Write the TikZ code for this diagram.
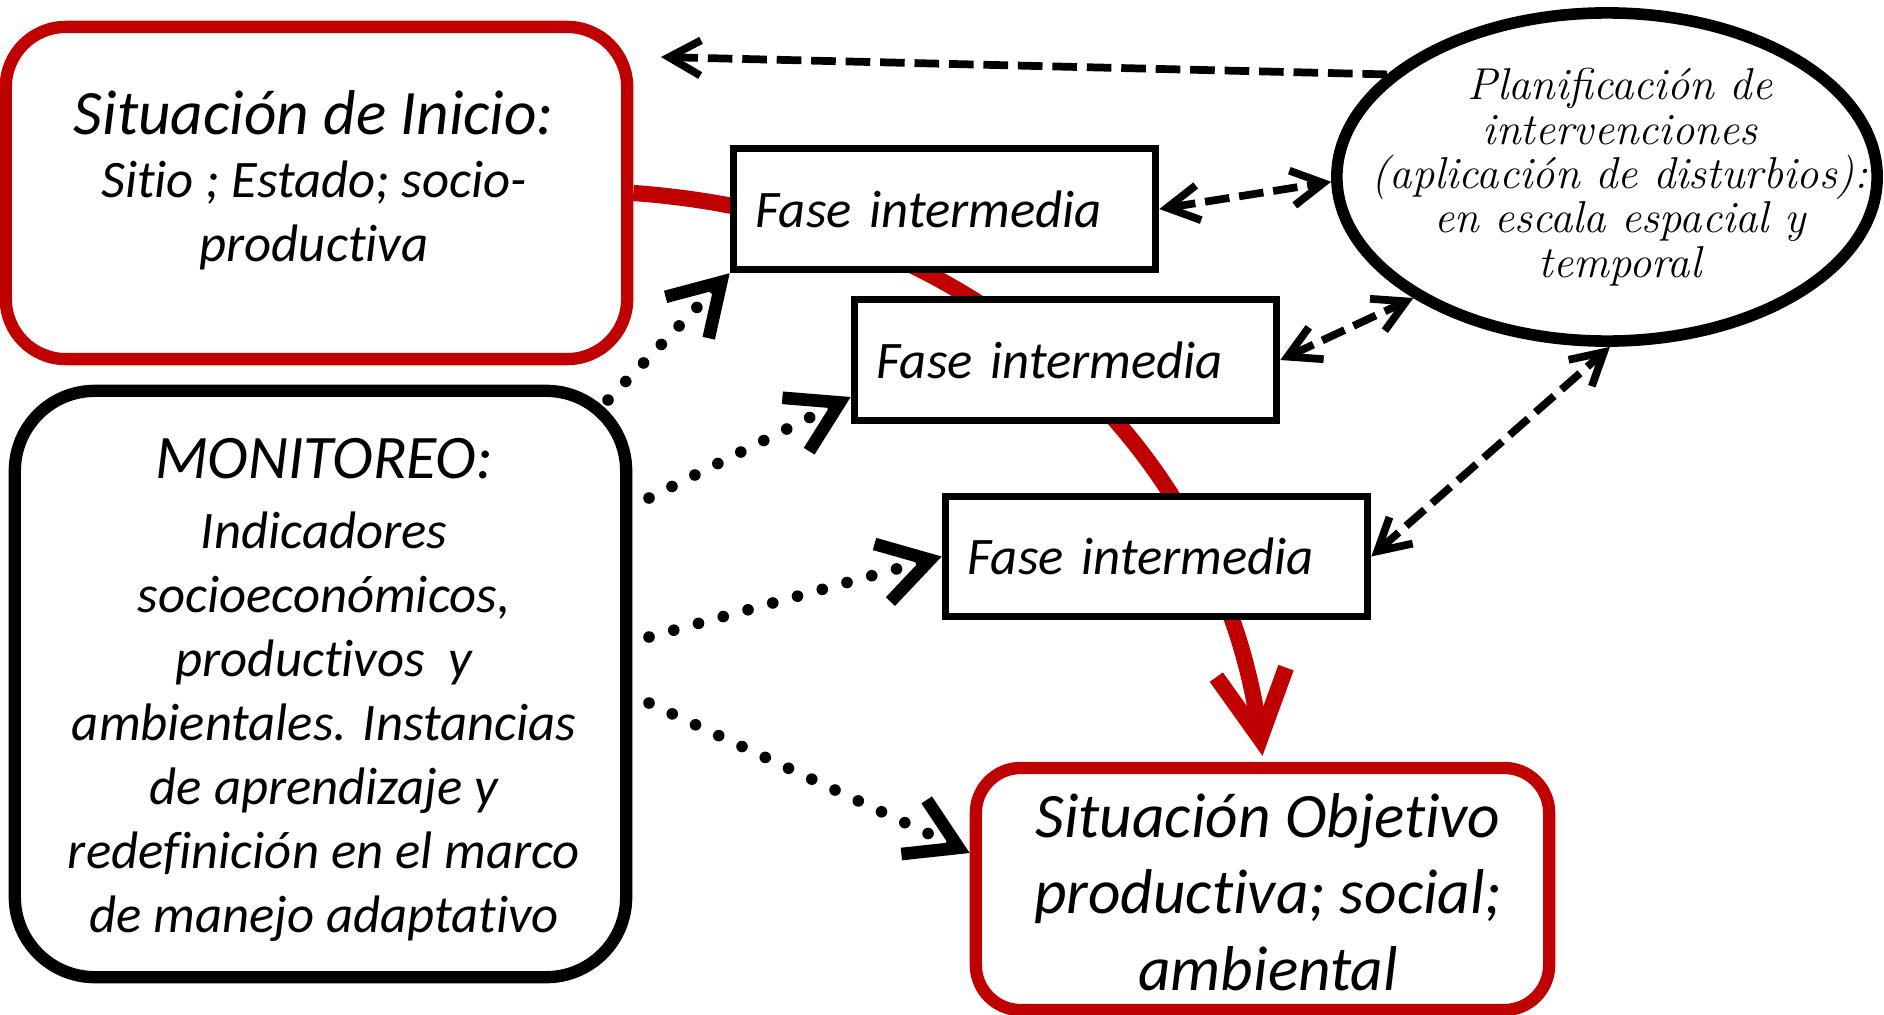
\documentclass[tikz,border=0pt]{standalone}
\usepackage{fontspec}
\newfontfamily\calib[Ligatures=NoCommon]{Carlito}
\usetikzlibrary{arrows.meta,shapes.geometric,calc,backgrounds}
\definecolor{dred}{HTML}{C00000}
\begin{document}
\begin{tikzpicture}[x=0.01cm,y=-0.01cm,
  redbox/.style={draw=dred, line width=3.5pt, fill=white},
  blackbox/.style={draw=black, line width=3.5pt, fill=white},
  fasebox/.style={draw, line width=2.1pt, fill=white, minimum width=4.22cm,
     minimum height=1.21cm, text width=3.78cm, inner xsep=0.22cm, inner ysep=0pt,
     align=left, font=\calib\itshape\fontsize{15}{18}\selectfont},
  txt/.style={align=center, inner sep=0pt},
  dotarrow/.style={line width=3.3pt, dash pattern=on 0pt off 7.3pt, line cap=round,
     -{Straight Barb[length=14pt,width=17pt,line width=3.6pt]}},
  dasharrow/.style={line width=2.2pt, dash pattern=on 7pt off 2.8pt,
     -{Straight Barb[length=9pt,width=10pt,line width=2.2pt]}},
  dashboth/.style={line width=2.2pt, dash pattern=on 7pt off 2.8pt,
     {Straight Barb[length=9pt,width=10pt,line width=2.2pt]}-{Straight Barb[length=9pt,width=10pt,line width=2.2pt]}},
  redarrow/.style={draw=dred, line width=4.6pt,
     -{Straight Barb[length=19pt,width=20pt,line width=4.6pt]}}
]
\useasboundingbox (0,0) rectangle (1884,1015);

% boxes
\node[redbox, rounded corners=0.6cm, minimum width=6.21cm, minimum height=3.32cm] (inicio) at (316.5,193) {};
\node[txt, font=\calib\itshape\fontsize{18}{18}\selectfont] (initxt) at (314,180)
  {Situación de Inicio:\\{\fontsize{15}{18}\selectfont Sitio ; Estado; socio-}\\{\fontsize{15}{18}\selectfont productiva}};

\node[blackbox, rounded corners=0.8cm, minimum width=6.11cm, minimum height=5.86cm] (moni) at (320.5,684) {};
\node[txt, font=\calib\itshape\fontsize{15}{18.2}\selectfont] (monitxt) at (324,690)
  {{\fontsize{17.6}{18.2}\selectfont MONITOREO:}\\[1.7pt]
   Indicadores\\ socioeconómicos,\\ productivos~ y\\ ambientales. Instancias\\
   de aprendizaje y\\ redefinición en el marco\\ de manejo adaptativo};

\node[redbox, rounded corners=0.45cm, minimum width=5.73cm, minimum height=2.42cm] (objetivo) at (1262.5,889) {};
\node[txt, font=\calib\itshape\fontsize{18}{21.8}\selectfont] (objtxt) at (1268,892)
  {Situación Objetivo\\ productiva; social;\\ ambiental};

\node[fasebox] (fase1) at (944.5,209) {Fase intermedia};
\node[fasebox] (fase2) at (1065.5,360) {Fase intermedia};
\node[fasebox, minimum width=4.2cm, minimum height=1.2cm] (fase3) at (1156.5,556.5) {Fase intermedia};

\node[ellipse, draw, line width=3.3pt, fill=white, minimum width=5.4cm,
      minimum height=3.28cm, inner sep=0pt] (plan) at (1607,177) {};
\node[txt, font=\itshape\addfontfeatures{FakeBold=0.6}\fontsize{12.7}{12.6}\selectfont] (plantxt) at (1620,177)
  {Planificación de\\ intervenciones\\ (aplicación de disturbios):\\ en escala espacial y\\ temporal};

% red path
\begin{scope}[on background layer]
\draw[redarrow] (inicio.east) .. controls (1010,220) and (1225,480) .. ($(objetivo.north)+(0,-6)$);
\end{scope}

% dotted arrows from monitoring
\coordinate (m1) at (608,400);
\coordinate (m2) at (649,498);
\coordinate (m3) at (649,637);
\coordinate (m4) at (649,703);
\draw[dotarrow] (m1) -- (fase1.south west);
\draw[dotarrow] (m2) -- ($(fase2.west)+(0,37)$);
\draw[dotarrow] (m3) -- (fase3.west);
\draw[dotarrow] (m4) -- ($(objetivo.west)+(0,-36)$);

% dashed arrows
\coordinate (topend) at (661,57);
\draw[dasharrow] (plan.155) -- (topend);
\draw[dashboth] (fase1.east) -- (plan.181);
\draw[dashboth] (fase2.east) -- (plan.212);
\draw[dashboth] (fase3.east) -- (plan.271);
\end{tikzpicture}
\end{document}
